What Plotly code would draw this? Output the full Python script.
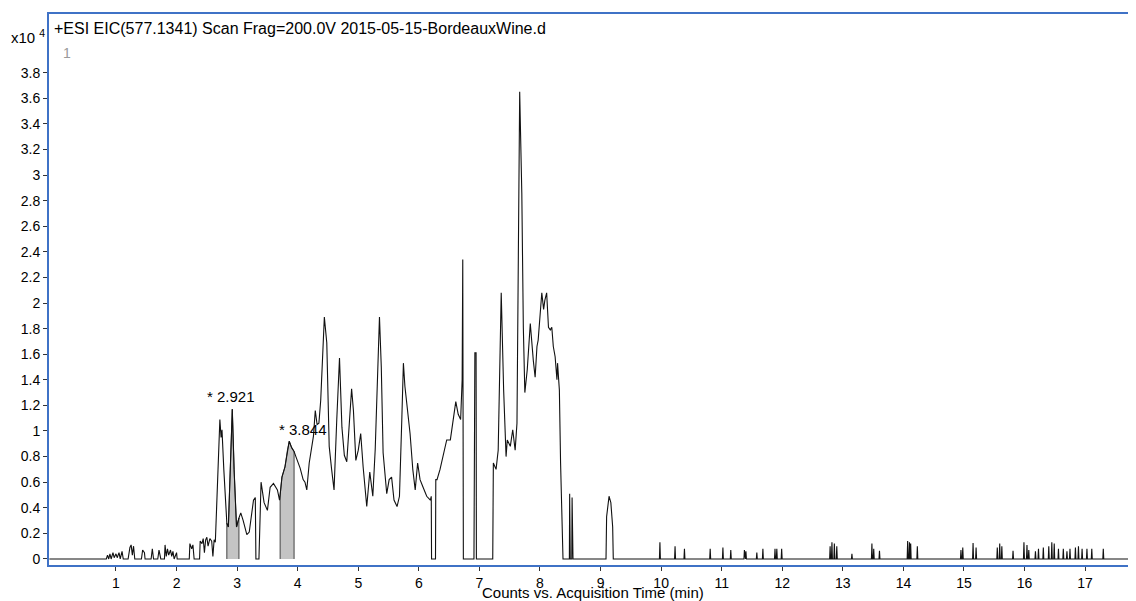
import plotly.graph_objects as go

# ---- Data (time in min, intensity in units of 10^4 counts) ----
time_min = [
    -0.1, 0.84,
    0.86, 0.88, 0.90, 0.92, 0.95, 0.97, 1.00, 1.02, 1.05, 1.07, 1.10, 1.12,
    1.20, 1.23, 1.25, 1.27, 1.29, 1.31,
    1.42, 1.44, 1.47, 1.48, 1.58, 1.60, 1.62, 1.69, 1.71, 1.74,
    1.80, 1.81, 1.83, 1.85, 1.87, 1.90, 1.92, 1.94, 1.96, 2.00, 2.01,
    2.21, 2.22, 2.25, 2.27, 2.29,
    2.38, 2.39, 2.42, 2.44, 2.46, 2.48, 2.50, 2.52, 2.55, 2.58, 2.60, 2.62, 2.64,
    2.67, 2.70, 2.715, 2.735, 2.75, 2.78, 2.81, 2.83, 2.855, 2.88, 2.92, 2.95, 2.99,
    3.03, 3.06, 3.10, 3.16, 3.20, 3.24, 3.27, 3.30, 3.31, 3.36, 3.395, 3.445, 3.50,
    3.545, 3.60, 3.665, 3.70, 3.71, 3.74, 3.79, 3.83, 3.86, 3.90, 3.94, 3.97, 4.04,
    4.09, 4.12, 4.15, 4.19, 4.26, 4.29, 4.32, 4.35, 4.38, 4.41, 4.44, 4.48, 4.52,
    4.56, 4.60, 4.645, 4.69, 4.73, 4.77, 4.81, 4.84, 4.89, 4.92, 4.96, 5.00, 5.04,
    5.08, 5.14, 5.19, 5.24, 5.28, 5.32, 5.35, 5.38, 5.41, 5.47, 5.51, 5.55, 5.59,
    5.64, 5.68, 5.72, 5.745, 5.77, 5.81, 5.855, 5.90, 5.94, 5.98, 6.02, 6.07, 6.13,
    6.19, 6.205, 6.21, 6.275, 6.28, 6.30, 6.35, 6.405, 6.46, 6.52, 6.57, 6.61, 6.65,
    6.69, 6.715, 6.725, 6.735, 6.91, 6.925, 6.945, 6.95, 7.22, 7.23, 7.275, 7.31,
    7.36, 7.40, 7.44, 7.46, 7.51, 7.55, 7.59, 7.62, 7.64, 7.665, 7.70, 7.725, 7.75,
    7.79, 7.84, 7.865, 7.89, 7.92, 7.95, 7.97, 8.00, 8.03, 8.06, 8.08, 8.11, 8.14,
    8.17, 8.195, 8.22, 8.25, 8.28, 8.29, 8.32, 8.34, 8.38, 8.485, 8.49, 8.50, 8.525,
    8.53, 8.545, 9.09, 9.10, 9.14, 9.17, 9.20, 9.21,
]
intensity_e4 = [
    0.0, 0.0,
    0.03, 0.0, 0.04, 0.0, 0.05, 0.01, 0.04, 0.01, 0.05, 0.0, 0.06, 0.0,
    0.0, 0.09, 0.11, 0.03, 0.10, 0.0,
    0.0, 0.07, 0.05, 0.0, 0.0, 0.08, 0.0, 0.0, 0.07, 0.0,
    0.0, 0.11, 0.02, 0.08, 0.03, 0.07, 0.02, 0.06, 0.0, 0.05, 0.0,
    0.0, 0.12, 0.08, 0.11, 0.0,
    0.0, 0.14, 0.12, 0.16, 0.05, 0.15, 0.17, 0.10, 0.16, 0.14, 0.02, 0.15, 0.13,
    0.50, 1.00, 1.09, 0.95, 1.01, 0.70, 0.40, 0.28, 0.25, 0.60, 1.17, 0.70, 0.25,
    0.32, 0.36, 0.30, 0.19, 0.21, 0.35, 0.46, 0.48, 0.0, 0.0, 0.60, 0.44, 0.38,
    0.56, 0.59, 0.54, 0.46, 0.50, 0.64, 0.72, 0.85, 0.92, 0.87, 0.84, 0.80, 0.71,
    0.62, 0.60, 0.54, 0.75, 0.96, 1.16, 1.05, 1.06, 1.24, 1.60, 1.89, 1.69, 0.88,
    0.70, 0.54, 1.09, 1.57, 1.03, 0.81, 0.76, 0.98, 1.33, 1.16, 0.77, 0.85, 0.98,
    0.72, 0.41, 0.68, 0.49, 0.86, 1.37, 1.89, 1.50, 0.83, 0.51, 0.62, 0.64, 0.46,
    0.41, 0.49, 1.11, 1.53, 1.35, 1.16, 0.98, 0.70, 0.54, 0.75, 0.62, 0.56, 0.49,
    0.46, 0.49, 0.0, 0.0, 0.62, 0.62, 0.70, 0.83, 0.93, 0.93, 1.09, 1.23, 1.13,
    1.09, 1.40, 2.34, 0.0, 0.0, 1.61, 1.61, 0.0, 0.0, 0.75, 0.70, 0.85,
    2.08, 1.32, 0.80, 0.93, 0.88, 1.01, 0.85, 1.06, 2.41, 3.65, 2.86, 1.81, 1.30,
    1.48, 1.84, 1.66, 1.55, 1.42, 1.66, 1.71, 1.92, 2.08, 1.95, 2.02, 2.08, 1.81,
    1.79, 1.81, 1.66, 1.58, 1.40, 1.53, 1.32, 0.75, 0.0, 0.0, 0.51, 0.0, 0.0,
    0.48, 0.0, 0.0, 0.33, 0.49, 0.44, 0.25, 0.0,
]

# small late spikes (time, height)
spike_times = [9.98, 10.23, 10.385, 10.81, 11.02, 11.15, 11.375, 11.40, 11.58, 11.68,
               11.88, 11.91, 11.99, 12.79, 12.82, 12.86, 12.90, 13.15, 13.48, 13.51,
               13.605, 14.07, 14.10, 14.12, 14.23, 14.95, 14.98, 15.15, 15.20, 15.55,
               15.59, 15.625, 15.81, 15.99, 16.04, 16.07, 16.18, 16.23, 16.31, 16.40,
               16.45, 16.49, 16.56, 16.64, 16.70, 16.75, 16.84, 16.89, 16.95, 17.03,
               17.11, 17.30]
spike_heights = [0.13, 0.10, 0.08, 0.08, 0.09, 0.07, 0.07, 0.06, 0.05, 0.08,
                 0.08, 0.08, 0.08, 0.10, 0.13, 0.12, 0.10, 0.04, 0.12, 0.08,
                 0.065, 0.14, 0.13, 0.12, 0.10, 0.07, 0.09, 0.125, 0.09, 0.09,
                 0.12, 0.10, 0.065, 0.13, 0.11, 0.07, 0.06, 0.08, 0.09, 0.10,
                 0.13, 0.12, 0.08, 0.08, 0.06, 0.08, 0.09, 0.10, 0.08, 0.08,
                 0.08, 0.08]
end_time = 17.9

shaded_ranges = [(2.83, 3.03), (3.71, 3.94)]
peak_labels = ["* 2.921", "* 3.844"]
label_pos = [(2.90, 1.266), (4.09, 1.008)]

y_tick_vals = [round(0.2 * i, 1) for i in range(20)]
y_tick_text = ["0", "0.2", "0.4", "0.6", "0.8", "1", "1.2", "1.4", "1.6", "1.8",
               "2", "2.2", "2.4", "2.6", "2.8", "3", "3.2", "3.4", "3.6", "3.8"]
x_tick_vals = list(range(1, 18))

title_text = "+ESI EIC(577.1341) Scan Frag=200.0V 2015-05-15-BordeauxWine.d"
x_title = "Counts vs. Acquisition Time (min)"

# ---- Build full trace ----
xs = list(time_min)
ys = list(intensity_e4)
for t, h in zip(spike_times, spike_heights):
    xs += [t - 0.008, t, t + 0.008]
    ys += [0.0, h, 0.0]
xs.append(end_time)
ys.append(0.0)

FONT = "Liberation Sans, Arial, Helvetica, sans-serif"
BLUE = "#3F72C6"

fig = go.Figure()

for (a, b) in shaded_ranges:
    sx = [a] + [t for t in time_min if a <= t <= b] + [b]
    sy = [0.0] + [v for t, v in zip(time_min, intensity_e4) if a <= t <= b] + [0.0]
    fig.add_trace(go.Scatter(x=sx, y=sy, mode="lines", fill="toself",
                             fillcolor="#C4C4C4", line=dict(color="#444444", width=1),
                             hoverinfo="skip", showlegend=False))

fig.add_trace(go.Scatter(x=xs, y=ys, mode="lines",
                         line=dict(color="#111111", width=1.1),
                         showlegend=False))

# page body has an 8px margin; figure is sized to fill the rest of the window
OFF = 8
W, H = 1136 - OFF, 601 - OFF
L = 49 - OFF
T = 14 - OFF
PB = 565 - OFF          # plot bottom in figure pixels
R = 0
B = H - PB
PW, PH = W - L - R, PB - T

def px(xp):
    return (xp - OFF - L) / PW

def py(yp):
    return (PB - (yp - OFF)) / PH

annotations = [
    dict(text=title_text, x=px(52), y=py(28), xref="paper", yref="paper",
         xanchor="left", yanchor="middle", showarrow=False,
         font=dict(size=16, color="black", family=FONT)),
    dict(text="x10 <sup>4</sup>", x=px(9), y=py(37), xref="paper", yref="paper",
         xanchor="left", yanchor="middle", showarrow=False,
         font=dict(size=15, color="black", family=FONT)),
    dict(text="1", x=px(61), y=py(53), xref="paper", yref="paper",
         xanchor="left", yanchor="middle", showarrow=False,
         font=dict(size=14, color="#9a9a9a", family=FONT)),
    dict(text=x_title, x=0.5, y=py(592), xref="paper", yref="paper",
         xanchor="center", yanchor="middle", showarrow=False,
         font=dict(size=15, color="black", family=FONT)),
]
for txt, (lx, ly) in zip(peak_labels, label_pos):
    annotations.append(dict(text=txt, x=lx, y=ly, xref="x", yref="y",
                            xanchor="center", yanchor="middle", showarrow=False,
                            font=dict(size=15, color="black", family=FONT)))

fig.update_layout(
    width=W, height=H,
    margin=dict(l=L, r=R, t=T, b=B, pad=0),
    paper_bgcolor="white", plot_bgcolor="white",
    font=dict(family=FONT, size=14, color="black"),
    annotations=annotations,
    xaxis=dict(range=[-0.106, 17.84], tickvals=x_tick_vals,
               ticks="outside", ticklen=4, tickcolor="#333333", tickwidth=1,
               showline=True, linecolor=BLUE, linewidth=2, mirror=True,
               showgrid=False, zeroline=False,
               tickfont=dict(size=14, family=FONT, color="black")),
    yaxis=dict(range=[-0.047, 4.258], tickvals=y_tick_vals, ticktext=y_tick_text,
               ticks="outside", ticklen=4, tickcolor="#333333", tickwidth=1,
               showline=True, linecolor=BLUE, linewidth=2,
               showgrid=False, zeroline=False,
               tickfont=dict(size=14, family=FONT, color="black")),
)

fig.write_html("out.html")
